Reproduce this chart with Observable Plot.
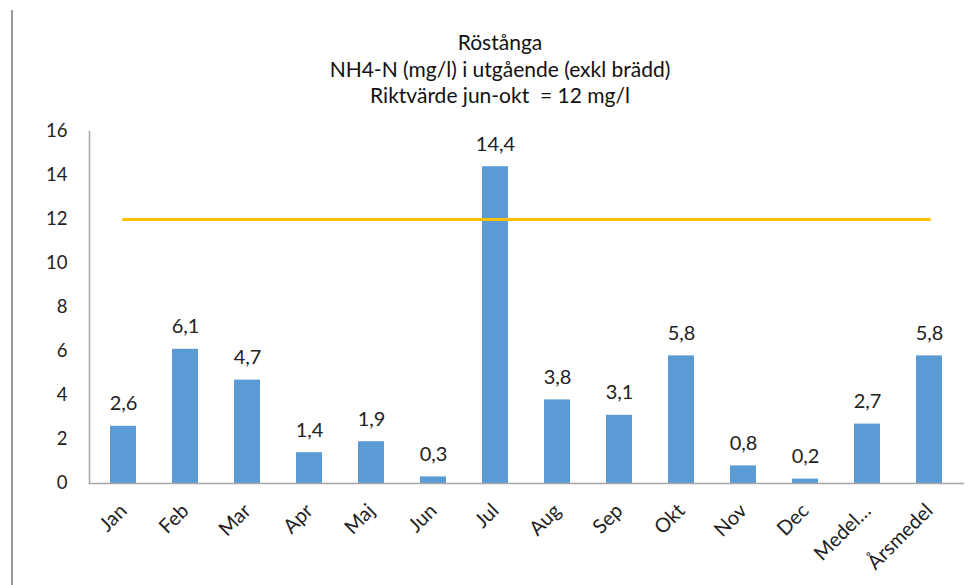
<!DOCTYPE html>
<html>
<head>
<meta charset="utf-8">
<script src="https://cdn.jsdelivr.net/npm/d3@7"></script>
<script src="https://cdn.jsdelivr.net/npm/@observablehq/plot@0.6"></script>
<style>
  html, body { margin: 0; padding: 0; background: #fff; }
  #wrap { position: relative; width: 976px; height: 585px; overflow: hidden; font-family: Lato, "Open Sans", sans-serif; }
  #edge { position: absolute; left: 11px; top: 10px; width: 0; height: 580px; border-left: 2px solid #9a9a9a; }
  #title { height: 112px; box-sizing: border-box; padding-top: 29px; text-align: center; padding-left: 24px;
           font-size: 21px; line-height: 26.5px; color: #111; }
  #title div { width: 952px; }
  svg { display: block; }
</style>
</head>
<body>
<div id="wrap">
  <div id="edge"></div>
  <div id="title">
    <div>Röstånga</div>
    <div>NH4-N (mg/l) i utgående (exkl brädd)</div>
    <div>Riktvärde jun-okt&nbsp; = 12 mg/l</div>
  </div>
  <div id="chart"></div>
</div>
<script>
// Monthly NH4-N in outgoing water, Röstånga (mg/l)
const categories = ["Jan", "Feb", "Mar", "Apr", "Maj", "Jun", "Jul", "Aug", "Sep", "Okt", "Nov", "Dec", "Medel…", "Årsmedel"];
const values = [2.6, 6.1, 4.7, 1.4, 1.9, 0.3, 14.4, 3.8, 3.1, 5.8, 0.8, 0.2, 2.7, 5.8];
// Guideline value for June–October
const guideline = 12;
const yTicks = [0, 2, 4, 6, 8, 10, 12, 14, 16];

const rows = categories.map((c, i) => ({category: c, value: values[i]}));
const guideRows = categories.map(c => ({category: c, value: guideline}));
const fmt = v => v.toFixed(1).replace(".", ",");

const chart = Plot.plot({
  width: 976,
  height: 473,
  marginLeft: 89,
  marginRight: 13,
  marginTop: 19,
  marginBottom: 102,
  style: {fontFamily: "Lato, 'Open Sans', sans-serif", color: "#222", background: "#fff"},
  x: {domain: categories, paddingInner: 0.58, paddingOuter: 0.29, label: null},
  y: {domain: [0, 16], label: null},
  marks: [
    Plot.barY(rows, {x: "category", y: "value", fill: "#5B9BD5"}),
    Plot.lineY(guideRows, {x: "category", y: "value", stroke: "#FFC000", strokeWidth: 3}),
    Plot.text(rows, {x: "category", y: "value", text: d => fmt(d.value), dy: -16, lineAnchor: "bottom", fontSize: 20, fill: "#222"}),
    Plot.axisY({ticks: yTicks, tickSize: 0, tickPadding: 22, fontSize: 18.5, label: null}),
    Plot.axisX({tickSize: 0, tickPadding: 24, tickRotate: -45, fontSize: 20, label: null}),
    Plot.frame({anchor: "left", stroke: "#a6a6a6", strokeWidth: 1.5}),
    Plot.frame({anchor: "bottom", stroke: "#a6a6a6", strokeWidth: 1.5})
  ]
});
document.getElementById("chart").append(chart);
</script>
</body>
</html>
